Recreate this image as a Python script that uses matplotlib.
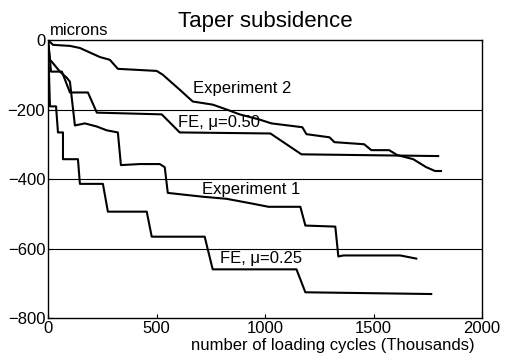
"""Taper subsidence: experiments vs FE predictions."""

import matplotlib

matplotlib.use("Agg")

import matplotlib.pyplot as plt

plt.rcParams["font.family"] = ["Liberation Sans", "DejaVu Sans"]

# cycles in thousands, subsidence in microns
exp2_x = [0, 23, 101, 147, 239, 285, 322, 501, 529, 607, 667, 759, 823, 883, 975,
          1030, 1172, 1191, 1297, 1320, 1457, 1490, 1572, 1609, 1683, 1743, 1784, 1811]
exp2_y = [0, -14, -17, -23, -49, -57, -83, -89, -100, -143, -177, -186, -200, -214,
          -229, -240, -251, -271, -280, -294, -300, -317, -317, -331, -343, -366,
          -377, -377]

fe50_x = [0, 14, 64, 101, 184, 225, 524, 607, 1025, 1168, 1798]
fe50_y = [0, -91, -91, -151, -151, -209, -214, -266, -269, -329, -334]

exp1_x = [0, 9, 18, 55, 87, 101, 124, 170, 225, 271, 322, 336, 423, 515, 538,
          552, 713, 823, 943, 1016, 1163, 1186, 1324, 1338, 1361, 1623, 1697]
exp1_y = [0, -57, -63, -91, -109, -120, -246, -240, -249, -260, -266, -360, -357,
          -357, -366, -440, -451, -457, -471, -480, -480, -534, -537, -623, -620,
          -620, -629]

fe25_x = [0, 9, 37, 46, 69, 69, 138, 147, 253, 276, 455, 478, 722, 759, 1145,
          1186, 1766]
fe25_y = [0, -191, -191, -266, -266, -343, -343, -414, -414, -494, -494, -566,
          -566, -660, -660, -726, -731]

labels = ["Experiment 2", "FE, \u03bc=0.50", "Experiment 1", "FE, \u03bc=0.25"]
label_x = [667, 598, 708, 791]
label_y = [-140, -237, -431, -629]

fig = plt.figure(figsize=(5.08, 3.55), dpi=100)
ax = fig.add_axes([48 / 508, 1 - 318 / 355, 434 / 508, 278 / 355])

for xs, ys in [(exp2_x, exp2_y), (fe50_x, fe50_y), (exp1_x, exp1_y), (fe25_x, fe25_y)]:
    ax.plot(xs, ys, color="black", lw=1.5, zorder=3)

for text, tx, ty in zip(labels, label_x, label_y):
    ax.text(tx, ty, text, fontsize=12, ha="left", va="center", zorder=4)

for level in [-200, -400, -600]:
    ax.axhline(level, color="black", lw=0.8, zorder=1)

ax.set_xlim(0, 2000)
ax.set_ylim(-800, 0)
ax.set_xticks([0, 500, 1000, 1500, 2000])
ax.set_yticks([0, -200, -400, -600, -800])
ax.tick_params(direction="in", length=3, labelsize=12, pad=2)
for spine in ax.spines.values():
    spine.set_linewidth(1.0)

ax.set_title("Taper subsidence", fontsize=16, pad=9)
ax.text(0.005, 1.008, "microns", transform=ax.transAxes, fontsize=12,
        ha="left", va="bottom")
ax.set_xlabel("number of loading cycles (Thousands)", fontsize=12)
ax.xaxis.set_label_coords(285 / 434, -0.072)

fig.savefig("out.png", dpi=100)
